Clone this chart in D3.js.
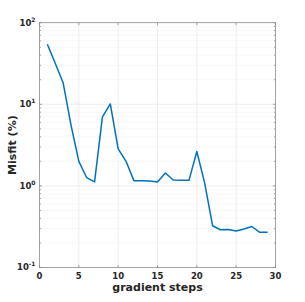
<!DOCTYPE html>
<html>
<head>
<meta charset="utf-8">
<script src="https://cdn.jsdelivr.net/npm/d3@7"></script>
<style>
	body { margin: 0; background: #fff; }
	svg { display: block; font-family: "DejaVu Sans", sans-serif; }
</style>
</head>
<body>
<svg id="chart" width="305" height="302"></svg>
<script>
	// gradient step index and misfit (%)
	const steps = [1, 2, 3, 4, 5, 6, 7, 8, 9, 10, 11, 12, 13, 14, 15, 16, 17, 18, 19, 20, 21, 22, 23, 24, 25, 26, 27, 28, 29];
	const misfit = [54.4, 31.9, 18.4, 5.6, 2.0, 1.26, 1.12, 7.0, 10.1, 2.84, 2.0, 1.16, 1.16, 1.15, 1.12, 1.44, 1.18, 1.17, 1.17, 2.64, 1.08, 0.325, 0.29, 0.292, 0.28, 0.296, 0.318, 0.27, 0.27];
	const xTicks = [0, 5, 10, 15, 20, 25, 30];
	const yDecades = [-1, 0, 1, 2];

	const margin = { top: 22.7, right: 29.5, bottom: 34.5, left: 39.5 };
	const width = 305 - margin.left - margin.right;
	const height = 302 - margin.top - margin.bottom;

	const svg = d3.select("#chart");
	const g = svg.append("g").attr("transform", `translate(${margin.left},${margin.top})`);

	const xScale = d3.scaleLinear().domain([0, 30]).range([0, width]);
	const yScale = d3.scaleLog().domain([0.1, 100]).range([height, 0]);

	// minor grid (2..9 within each decade)
	const minor = [];
	yDecades.slice(0, -1).forEach(function(e) {
		for (let k = 2; k <= 9; k++) minor.push(k * Math.pow(10, e));
	});
	g.selectAll(".minor")
		.data(minor)
		.enter()
		.append("line")
		.attr("x1", 0).attr("x2", width)
		.attr("y1", d => yScale(d)).attr("y2", d => yScale(d))
		.attr("stroke", "#e6e6e6")
		.attr("stroke-width", 0.6)
		.attr("stroke-dasharray", "1,1");

	// major grid
	g.selectAll(".xgrid")
		.data(xTicks.slice(1, -1))
		.enter()
		.append("line")
		.attr("x1", d => xScale(d)).attr("x2", d => xScale(d))
		.attr("y1", 0).attr("y2", height)
		.attr("stroke", "#e8e8e8")
		.attr("stroke-width", 0.8);
	g.selectAll(".ygrid")
		.data(yDecades.slice(1, -1))
		.enter()
		.append("line")
		.attr("x1", 0).attr("x2", width)
		.attr("y1", d => yScale(Math.pow(10, d))).attr("y2", d => yScale(Math.pow(10, d)))
		.attr("stroke", "#e8e8e8")
		.attr("stroke-width", 0.8);

	// data line
	const line = d3.line()
		.x((d, i) => xScale(steps[i]))
		.y(d => yScale(d));
	g.append("path")
		.datum(misfit)
		.attr("d", line)
		.attr("fill", "none")
		.attr("stroke", "#0072bd")
		.attr("stroke-width", 1.5)
		.attr("stroke-linejoin", "round");

	// axes box with inward ticks
	const axisColor = "#8c8c8c";
	g.append("rect")
		.attr("width", width).attr("height", height)
		.attr("fill", "none")
		.attr("stroke", axisColor)
		.attr("stroke-width", 0.8);

	const tickLen = 2.5;
	xTicks.forEach(function(t) {
		[[height, height - tickLen], [0, tickLen]].forEach(function(p) {
			g.append("line")
				.attr("x1", xScale(t)).attr("x2", xScale(t))
				.attr("y1", p[0]).attr("y2", p[1])
				.attr("stroke", axisColor).attr("stroke-width", 0.8);
		});
	});
	minor.concat(yDecades.map(e => Math.pow(10, e))).forEach(function(v) {
		const len = minor.includes(v) ? 1.5 : tickLen;
		[[0, len], [width, width - len]].forEach(function(p) {
			g.append("line")
				.attr("x1", p[0]).attr("x2", p[1])
				.attr("y1", yScale(v)).attr("y2", yScale(v))
				.attr("stroke", axisColor).attr("stroke-width", 0.8);
		});
	});

	// tick labels
	g.selectAll(".xlabel")
		.data(xTicks)
		.enter()
		.append("text")
		.attr("x", d => xScale(d))
		.attr("y", height + 12)
		.attr("text-anchor", "middle")
		.attr("font-size", 8.5)
		.attr("font-weight", "bold")
		.attr("fill", "#262626")
		.text(d => d);

	const ylab = g.selectAll(".ylabel")
		.data(yDecades)
		.enter()
		.append("text")
		.attr("x", -4)
		.attr("y", d => yScale(Math.pow(10, d)) + 3)
		.attr("text-anchor", "end")
		.attr("font-size", 8.5)
		.attr("font-weight", "bold")
		.attr("fill", "#262626");
	ylab.append("tspan").text("10");
	ylab.append("tspan")
		.attr("dy", -4)
		.attr("font-size", 6)
		.text(d => d);

	// axis titles
	svg.append("text")
		.attr("x", margin.left + width / 2)
		.attr("y", 291)
		.attr("text-anchor", "middle")
		.attr("font-size", 11)
		.attr("font-weight", "bold")
		.attr("fill", "#262626")
		.text("gradient steps");

	svg.append("text")
		.attr("transform", `translate(16,${margin.top + height / 2}) rotate(-90)`)
		.attr("text-anchor", "middle")
		.attr("font-size", 11)
		.attr("font-weight", "bold")
		.attr("fill", "#262626")
		.text("Misfit (%)");
</script>
</body>
</html>
